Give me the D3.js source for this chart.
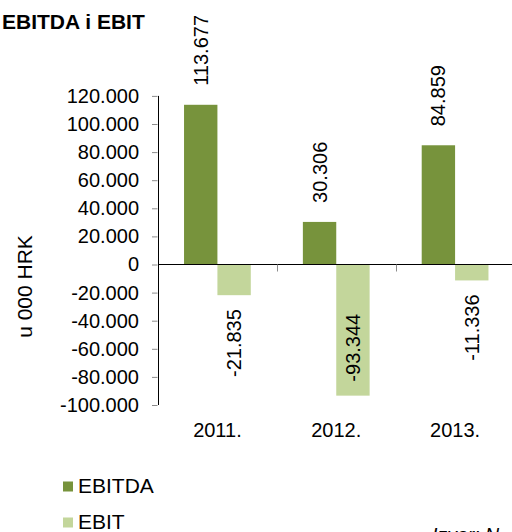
<!DOCTYPE html>
<html>
<head>
<meta charset="utf-8">
<script src="https://cdn.jsdelivr.net/npm/d3@7/dist/d3.min.js"></script>
<style>
  html, body { margin: 0; padding: 0; background: #fff; }
  svg { display: block; font-family: "Liberation Sans", Arial, sans-serif; }
</style>
</head>
<body>
<svg id="chart" width="512" height="532"></svg>
<script>
// EBITDA and EBIT per year, in thousands of HRK
const years = ["2011.", "2012.", "2013."];
const seriesNames = ["EBITDA", "EBIT"];
const ebitda = [113677, 30306, 84859];
const ebit = [-21835, -93344, -11336];
const yTicks = [120000, 100000, 80000, 60000, 40000, 20000, 0, -20000, -40000, -60000, -80000, -100000];

const colors = { EBITDA: "#77933C", EBIT: "#C3D69B" };

const hr = d3.formatLocale({ decimal: ",", thousands: ".", grouping: [3], currency: ["", " kn"], minus: "-" });
const fmt = hr.format(",.0f");

const svg = d3.select("#chart");
const W = 512, H = 532;

const plot = { left: 158, right: 514.5, top: 95.9, bottom: 405 };

const y = d3.scaleLinear().domain([-100000, 120000]).range([plot.bottom, plot.top]);
const x = d3.scaleBand().domain(years).range([plot.left, plot.right]).padding(0);
const xs = d3.scaleBand().domain(seriesNames).range([0, x.bandwidth()]).paddingInner(0).paddingOuter(0.78);

const rows = years.map((yr, i) => ({ year: yr, EBITDA: ebitda[i], EBIT: ebit[i] }));

// bars
const groups = svg.append("g").selectAll("g")
  .data(rows).join("g")
  .attr("transform", d => `translate(${x(d.year)},0)`);

groups.selectAll("rect")
  .data(d => seriesNames.map(k => ({ key: k, value: d[k] })))
  .join("rect")
  .attr("x", d => xs(d.key))
  .attr("width", xs.bandwidth())
  .attr("y", d => y(Math.max(0, d.value)))
  .attr("height", d => Math.abs(y(d.value) - y(0)))
  .attr("fill", d => colors[d.key]);

// value labels, rotated, placed beyond the bar end (inside when they would leave the plot)
const labelSize = 20;
groups.selectAll("text.val")
  .data(d => seriesNames.map(k => ({ key: k, value: d[k] })))
  .join("text")
  .attr("class", "val")
  .attr("font-size", labelSize)
  .attr("fill", "#000")
  .each(function (d) {
    const t = d3.select(this).text(fmt(d.value));
    const len = this.getComputedTextLength();
    const cx = xs(d.key) + xs.bandwidth() / 2;
    let anchor, py;
    if (d.value >= 0) {
      anchor = "start";
      py = y(d.value) - 19;
    } else {
      py = y(d.value) + 14;
      anchor = "end";
      if (py + len > plot.bottom) {
        py = y(d.value) - 14;
        anchor = "start";
      }
    }
    t.attr("text-anchor", anchor)
     .attr("dy", "0.35em")
     .attr("transform", `translate(${cx},${py}) rotate(-90)`);
  });

// y axis
const yAxis = d3.axisLeft(y).tickValues(yTicks).tickFormat(fmt).tickSize(6).tickPadding(13);
const gy = svg.append("g").attr("transform", `translate(${plot.left},0)`).call(yAxis);
gy.select(".domain").attr("stroke", "#000").attr("d", `M0.5,${plot.top}V${plot.bottom}`);
gy.selectAll(".tick line").attr("stroke", "#8c8c8c").attr("x1", -0.5);
gy.selectAll(".tick text").attr("font-size", 20).attr("fill", "#000").attr("font-family", "Liberation Sans, Arial, sans-serif");

// x axis along zero, with category separators
const gx = svg.append("g");
gx.append("line")
  .attr("x1", plot.left).attr("x2", W)
  .attr("y1", y(0)).attr("y2", y(0))
  .attr("stroke", "#000");
gx.selectAll("line.sep")
  .data(years.slice(1)).join("line")
  .attr("class", "sep")
  .attr("x1", d => Math.round(x(d)) + 0.5).attr("x2", d => Math.round(x(d)) + 0.5)
  .attr("y1", y(0)).attr("y2", y(0) + 7)
  .attr("stroke", "#8c8c8c");

// category labels below the plot
svg.append("g").selectAll("text")
  .data(years).join("text")
  .attr("x", d => x(d) + x.bandwidth() / 2)
  .attr("y", 437)
  .attr("text-anchor", "middle")
  .attr("font-size", 20)
  .text(d => d);

// title
svg.append("text")
  .attr("x", 2).attr("y", 29)
  .attr("font-size", 21).attr("font-weight", "bold")
  .text("EBITDA i EBIT");

// y axis title
svg.append("text")
  .attr("transform", `translate(32,${(235 + 338) / 2}) rotate(-90)`)
  .attr("text-anchor", "middle")
  .attr("font-size", 21)
  .text("u 000 HRK");

// legend
const legend = svg.append("g").selectAll("g")
  .data(seriesNames).join("g")
  .attr("transform", (d, i) => `translate(63,${481.5 + i * 36})`);
legend.append("rect").attr("width", 10).attr("height", 10).attr("fill", d => colors[d]);
legend.append("text").attr("x", 15).attr("y", 11.5).attr("font-size", 21).text(d => d);

// source note
svg.append("text")
  .attr("x", 432).attr("y", 542)
  .attr("font-size", 19.5).attr("font-style", "italic")
  .text("Izvor: N");
</script>
</body>
</html>
